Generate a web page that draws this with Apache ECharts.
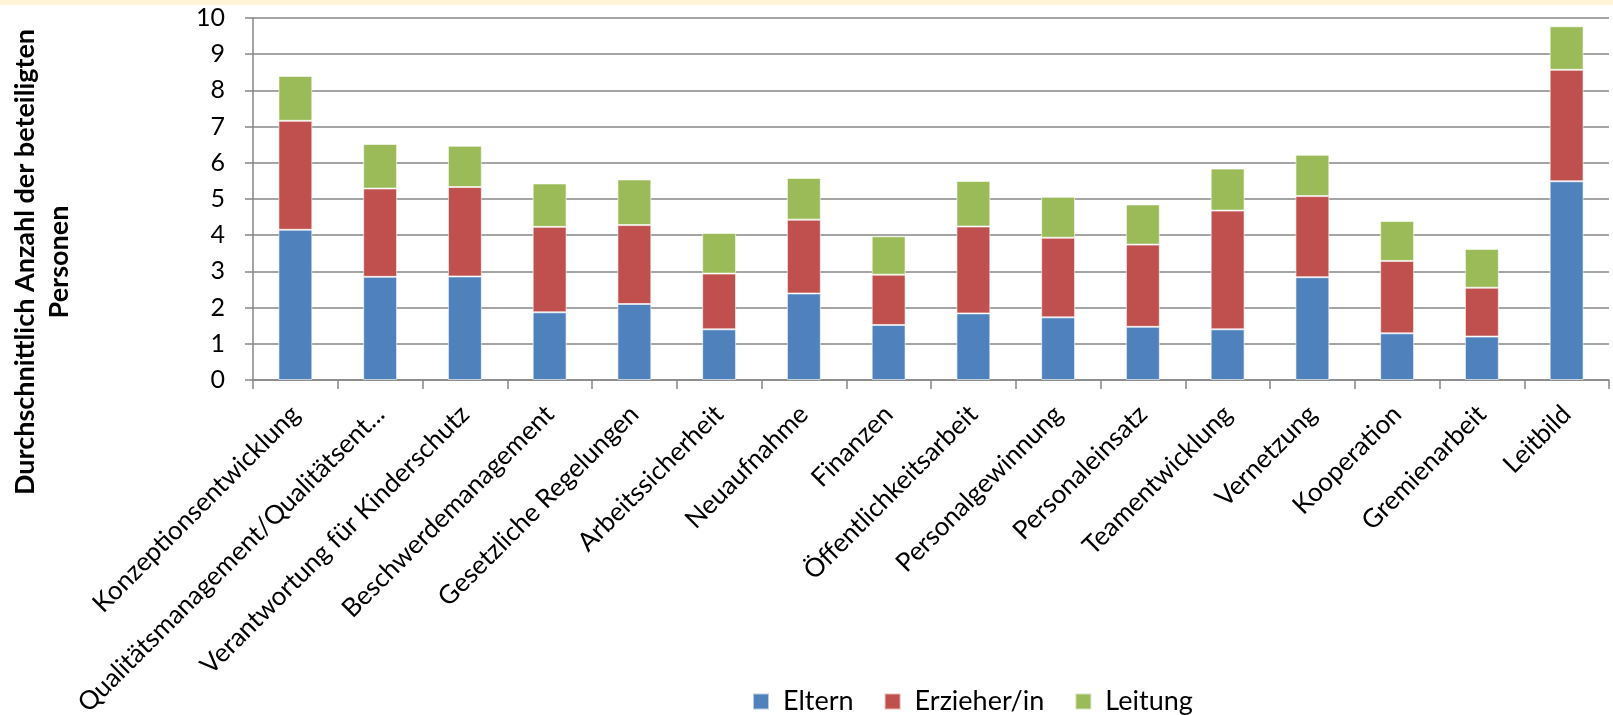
<!DOCTYPE html>
<html>
<head>
<meta charset="utf-8">
<script src="https://cdn.jsdelivr.net/npm/echarts@6/dist/echarts.min.js"></script>
<style>
  html, body { margin: 0; padding: 0; background: #fff; }
  #chart { width: 1613px; height: 715px; }
</style>
</head>
<body>
<div id="chart"></div>
<script>
const categories = [
  'Konzeptionsentwicklung', 'Qualitätsmanagement/Qualitätsent...', 'Verantwortung für Kinderschutz',
  'Beschwerdemanagement', 'Gesetzliche Regelungen', 'Arbeitssicherheit', 'Neuaufnahme', 'Finanzen',
  'Öffentlichkeitsarbeit', 'Personalgewinnung', 'Personaleinsatz', 'Teamentwicklung', 'Vernetzung',
  'Kooperation', 'Gremienarbeit', 'Leitbild'
];
const eltern = [4.15, 2.85, 2.86, 1.87, 2.10, 1.40, 2.39, 1.52, 1.84, 1.73, 1.47, 1.40, 2.84, 1.29, 1.20, 5.49];
const erzieher = [3.01, 2.44, 2.47, 2.36, 2.18, 1.54, 2.04, 1.39, 2.40, 2.20, 2.27, 3.28, 2.24, 2.00, 1.35, 3.08];
const leitung = [1.24, 1.23, 1.14, 1.20, 1.26, 1.12, 1.15, 1.06, 1.26, 1.13, 1.11, 1.16, 1.14, 1.10, 1.07, 1.20];

const font = 'Lato';
const axisGray = '#878787';

const chart = echarts.init(document.getElementById('chart'));

const barSeries = (name, data, color) => ({
  name,
  type: 'bar',
  stack: 'total',
  data,
  barWidth: '40%',
  itemStyle: { color, borderColor: 'rgba(255,255,255,0.6)', borderWidth: 1 }
});

chart.setOption({
  animation: false,
  textStyle: { fontFamily: font, color: '#000' },
  graphic: [
    { type: 'rect', left: 0, top: 0, shape: { width: 1613, height: 5 }, style: { fill: '#FFF4D6' } },
    {
      type: 'text',
      x: 42,
      y: 262,
      rotation: Math.PI / 2,
      style: {
        text: 'Durchschnittlich Anzahl der beteiligten\nPersonen',
        font: 'bold 27px ' + font,
        fill: '#000',
        align: 'center',
        verticalAlign: 'middle',
        lineHeight: 34
      }
    }
  ],
  legend: {
    left: 747,
    top: 683,
    itemWidth: 16,
    itemHeight: 16,
    itemGap: 30,
    icon: 'rect',
    textStyle: { fontFamily: font, fontSize: 27, color: '#000', padding: [0, 0, 0, 9] },
    data: ['Eltern', 'Erzieher/in', 'Leitung']
  },
  grid: { left: 253, right: 4, top: 18, bottom: 335, outerBoundsMode: 'none', containLabel: false },
  xAxis: {
    type: 'category',
    data: categories,
    axisLine: { lineStyle: { color: axisGray, width: 1.5 } },
    axisTick: { show: true, length: 9, lineStyle: { color: axisGray, width: 1.5 } },
    axisLabel: { interval: 0, rotate: 45, margin: 30, fontSize: 26, color: '#000', fontFamily: font }
  },
  yAxis: {
    type: 'value',
    min: 0,
    max: 10,
    interval: 1,
    axisLine: { show: true, lineStyle: { color: axisGray, width: 1.5 } },
    axisTick: { show: true, length: 8, lineStyle: { color: axisGray, width: 1.5 } },
    axisLabel: { margin: 28, fontSize: 25, color: '#000', fontFamily: font },
    splitLine: { lineStyle: { color: axisGray, width: 1.5 } }
  },
  series: [
    barSeries('Eltern', eltern, '#4F81BD'),
    barSeries('Erzieher/in', erzieher, '#C0504D'),
    barSeries('Leitung', leitung, '#9BBB59')
  ]
});
</script>
</body>
</html>
